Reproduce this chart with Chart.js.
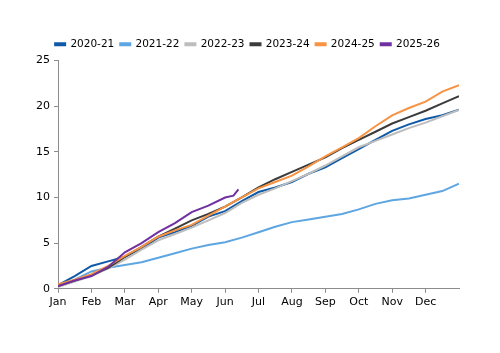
<!DOCTYPE html>
<html>
<head>
<meta charset="utf-8">
<script src="https://cdn.jsdelivr.net/npm/chart.js@4"></script>
<style>
  html, body { margin: 0; padding: 0; background: #fff; }
  #wrap { width: 500px; height: 353px; }
</style>
</head>
<body>
<div id="wrap"><canvas id="chart"></canvas></div>
<script>
// month labels sit on the start of each month, x is measured in months from Jan
var monthLabels = ["Jan", "Feb", "Mar", "Apr", "May", "Jun", "Jul", "Aug", "Sep", "Oct", "Nov", "Dec"];
var halfMonths = [0, 0.5, 1, 1.5, 2, 2.5, 3, 3.5, 4, 4.5, 5, 5.5, 6, 6.5, 7, 7.5, 8, 8.5, 9, 9.5, 10, 10.5, 11, 11.5, 12];
var months2526 = [0, 0.5, 1, 1.5, 2, 2.5, 3, 3.5, 4, 4.5, 5, 5.25, 5.4];

var s2020 = [0.4, 1.4, 2.5, 3.0, 3.5, 4.4, 5.6, 6.2, 6.9, 7.9, 8.5, 9.6, 10.6, 11.1, 11.7, 12.6, 13.3, 14.3, 15.3, 16.3, 17.3, 18.0, 18.6, 19.0, 19.6];
var s2021 = [0.3, 1.0, 1.9, 2.3, 2.6, 2.9, 3.4, 3.9, 4.4, 4.8, 5.1, 5.6, 6.2, 6.8, 7.3, 7.6, 7.9, 8.2, 8.7, 9.3, 9.7, 9.9, 10.3, 10.7, 11.5];
var s2022 = [0.2, 0.8, 1.4, 2.2, 3.2, 4.3, 5.3, 6.0, 6.7, 7.5, 8.3, 9.4, 10.3, 11.0, 11.8, 12.6, 13.5, 14.5, 15.5, 16.2, 16.9, 17.6, 18.2, 18.9, 19.6];
var s2023 = [0.3, 0.9, 1.5, 2.3, 3.5, 4.6, 5.7, 6.6, 7.5, 8.2, 9.0, 10.0, 11.1, 12.0, 12.8, 13.6, 14.4, 15.4, 16.3, 17.2, 18.1, 18.8, 19.5, 20.3, 21.1];
var s2024 = [0.5, 1.0, 1.6, 2.5, 3.6, 4.6, 5.7, 6.4, 7.0, 8.0, 9.0, 10.0, 11.0, 11.7, 12.4, 13.4, 14.5, 15.5, 16.5, 17.8, 19.0, 19.8, 20.5, 21.6, 22.3];
var s2025 = [0.3, 0.9, 1.4, 2.4, 4.0, 5.0, 6.2, 7.2, 8.4, 9.1, 10.0, 10.2, 10.9];

var yTicks = [0, 5, 10, 15, 20, 25];
var axisColor = "#8c8c8c";
var textColor = "#000";

function points(xs, ys) {
  return ys.map((v, i) => ({ x: xs[i], y: v }));
}

function makeSet(label, xs, ys, color, order) {
  return {
    label: label,
    data: points(xs, ys),
    borderColor: color,
    backgroundColor: color,
    borderWidth: 2,
    pointRadius: 0,
    tension: 0,
    order: order,
  };
}

// a little room under the legend, and centre it on the whole canvas
const legendGap = {
  id: "legendGap",
  afterInit(chart) {
    const fit = chart.legend.fit;
    chart.legend.fit = function() {
      fit.call(this);
      this.height += 1;
    };
  },
  afterLayout(chart) {
    chart.legend.left += 14;
    chart.legend.right += 14;
  }
};

new Chart(document.getElementById("chart").getContext("2d"), {
  type: "line",
  plugins: [legendGap],
  data: {
    datasets: [
      makeSet("2020-21", halfMonths, s2020, "#0f5aa8", 5),
      makeSet("2021-22", halfMonths, s2021, "#5ea6e2", 4),
      makeSet("2022-23", halfMonths, s2022, "#bdbdbd", 3),
      makeSet("2023-24", halfMonths, s2023, "#3c3c3c", 2),
      makeSet("2024-25", halfMonths, s2024, "#f79343", 1),
      makeSet("2025-26", months2526, s2025, "#7030a0", 0),
    ]
  },
  options: {
    responsive: true,
    maintainAspectRatio: false,
    animation: false,
    layout: { padding: { top: 33, left: 8, right: 41, bottom: 41 } },
    plugins: {
      tooltip: { enabled: false },
      legend: {
        display: true,
        position: "top",
        labels: {
          boxWidth: 10,
          boxHeight: 2,
          padding: 6,
          color: textColor,
          font: { family: "DejaVu Sans", size: 10.5 },
          sort: (a, b) => a.datasetIndex - b.datasetIndex,
        }
      }
    },
    scales: {
      x: {
        type: "linear",
        min: 0,
        max: 12,
        afterBuildTicks: s => { s.ticks = monthLabels.map((m, i) => ({ value: i })); },
        ticks: {
          autoSkip: false,
          maxRotation: 0,
          padding: 3,
          color: textColor,
          font: { family: "DejaVu Sans", size: 11 },
          callback: v => monthLabels[v],
        },
        grid: { drawOnChartArea: false, drawTicks: true, tickLength: 4, color: axisColor },
        border: { color: axisColor, width: 1 },
      },
      y: {
        min: 0,
        max: 25,
        afterBuildTicks: s => { s.ticks = yTicks.map(v => ({ value: v })); },
        afterFit: s => { s.width = 50; },
        ticks: {
          padding: 4,
          color: textColor,
          font: { family: "DejaVu Sans", size: 11 },
        },
        grid: { drawOnChartArea: false, drawTicks: true, tickLength: 4, color: axisColor },
        border: { color: axisColor, width: 1 },
      }
    }
  }
});
</script>
</body>
</html>
